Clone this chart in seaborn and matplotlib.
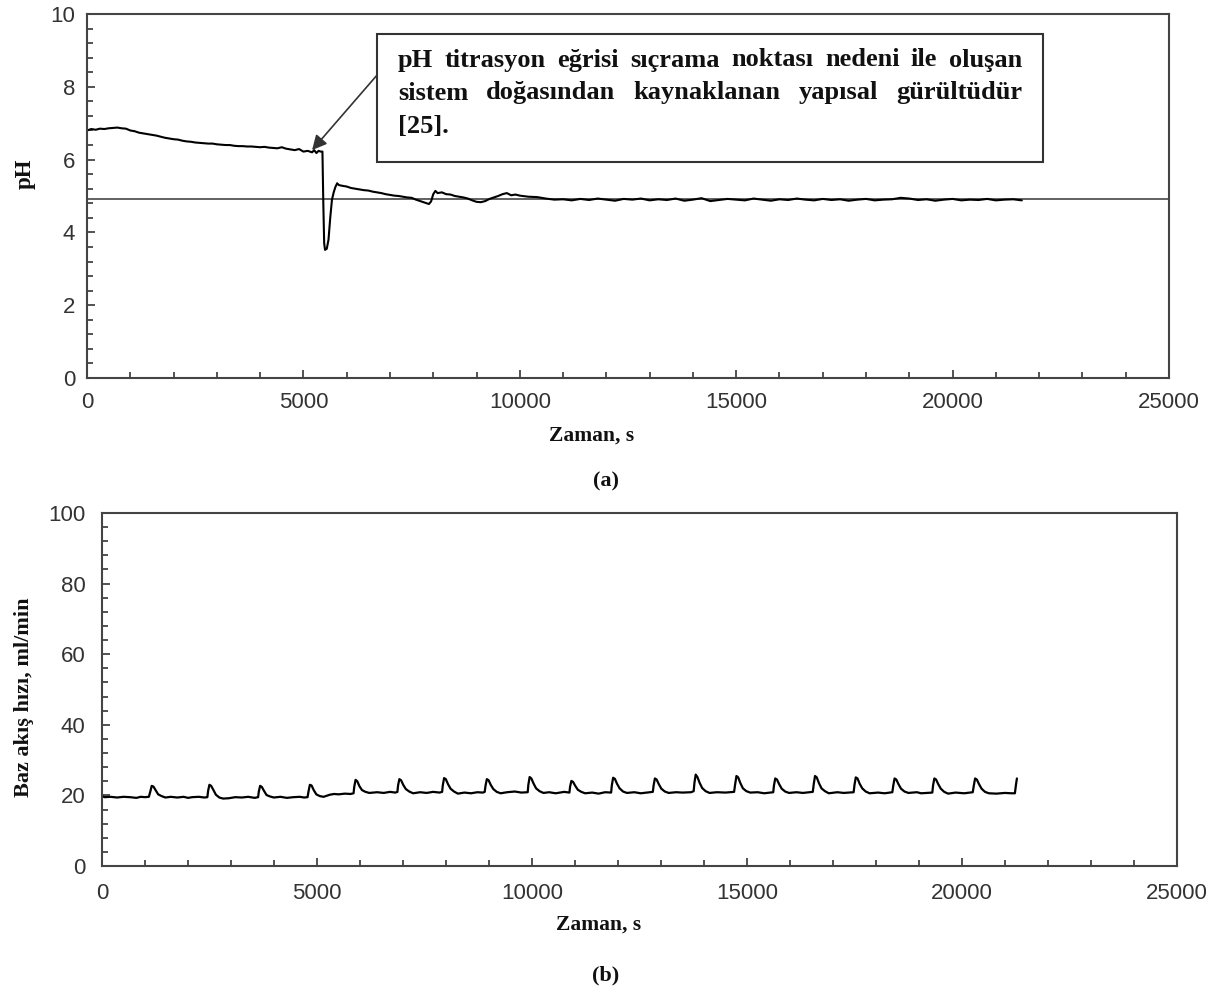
import pandas as pd
import seaborn as sns
import matplotlib.pyplot as plt
from matplotlib.ticker import MultipleLocator
from matplotlib.patches import Rectangle

#pH vs time
ph_t = [0, 100, 200, 300, 400, 500, 600, 700, 800, 900, 1000, 1100, 1200, 1300, 1400,
        1500, 1600, 1700, 1800, 1900, 2000, 2100, 2200, 2300, 2400, 2500, 2600, 2700,
        2800, 2900, 3000, 3100, 3200, 3300, 3400, 3500, 3600, 3700, 3800, 3900, 4000,
        4100, 4200, 4300, 4400, 4500, 4600, 4700, 4800, 4900, 5000, 5100, 5200, 5250,
        5300, 5350, 5400, 5440, 5460, 5480, 5500, 5540, 5580, 5620, 5660, 5700, 5740,
        5780, 5820, 5900, 6000, 6100, 6200, 6300, 6400, 6500, 6600, 6700, 6800, 6900,
        7000, 7100, 7200, 7300, 7400, 7500, 7600, 7700, 7800, 7900, 7950, 8000, 8050,
        8100, 8200, 8300, 8400, 8500, 8600, 8700, 8800, 8900, 9000, 9100, 9200, 9300,
        9400, 9500, 9600, 9700, 9800, 9900, 10000, 10200, 10400, 10600, 10800, 11000,
        11200, 11400, 11600, 11800, 12000, 12200, 12400, 12600, 12800, 13000, 13200,
        13400, 13600, 13800, 14000, 14200, 14400, 14600, 14800, 15000, 15200, 15400,
        15600, 15800, 16000, 16200, 16400, 16600, 16800, 17000, 17200, 17400, 17600,
        17800, 18000, 18200, 18400, 18600, 18800, 19000, 19200, 19400, 19600, 19800,
        20000, 20200, 20400, 20600, 20800, 21000, 21200, 21400, 21600]
ph_v = [6.80, 6.84, 6.82, 6.85, 6.84, 6.86, 6.87, 6.88, 6.86, 6.85, 6.80, 6.78, 6.74,
        6.72, 6.70, 6.68, 6.66, 6.63, 6.60, 6.58, 6.56, 6.55, 6.52, 6.50, 6.49, 6.47,
        6.46, 6.45, 6.44, 6.44, 6.42, 6.41, 6.40, 6.40, 6.38, 6.37, 6.37, 6.36, 6.36,
        6.35, 6.34, 6.35, 6.33, 6.32, 6.31, 6.34, 6.30, 6.28, 6.26, 6.29, 6.22, 6.24,
        6.20, 6.26, 6.18, 6.24, 6.22, 6.22, 4.80, 3.70, 3.52, 3.55, 3.80, 4.40, 4.90,
        5.10, 5.25, 5.35, 5.30, 5.28, 5.26, 5.22, 5.20, 5.18, 5.16, 5.15, 5.12, 5.10,
        5.08, 5.05, 5.03, 5.01, 5.00, 4.98, 4.96, 4.95, 4.90, 4.86, 4.82, 4.78, 4.85,
        5.05, 5.14, 5.08, 5.10, 5.05, 5.04, 5.00, 4.98, 4.96, 4.93, 4.88, 4.84, 4.83,
        4.86, 4.92, 4.96, 5.00, 5.05, 5.08, 5.02, 5.04, 5.01, 4.98, 4.97, 4.93, 4.90,
        4.91, 4.88, 4.92, 4.89, 4.93, 4.90, 4.87, 4.92, 4.90, 4.93, 4.88, 4.91, 4.89,
        4.93, 4.87, 4.90, 4.94, 4.86, 4.89, 4.92, 4.90, 4.88, 4.93, 4.90, 4.87, 4.91,
        4.89, 4.93, 4.90, 4.88, 4.92, 4.89, 4.91, 4.87, 4.90, 4.92, 4.88, 4.90, 4.91,
        4.95, 4.93, 4.89, 4.91, 4.87, 4.90, 4.92, 4.88, 4.90, 4.89, 4.92, 4.88, 4.90,
        4.91, 4.88]
ph_setpoint = 4.93

#Base flow rate vs time
flow_t = [0, 60, 200, 350, 500, 650, 800, 900, 1000, 1090,
          1126, 1156, 1196, 1246, 1306, 1386, 1476,
          1600, 1750, 1900, 2000, 2100, 2250, 2380, 2450,
          2468, 2498, 2538, 2588, 2648, 2728, 2818,
          2950, 3100, 3250, 3400, 3550, 3630,
          3647, 3677, 3717, 3767, 3827, 3907, 3997,
          4150, 4300, 4450, 4600, 4700, 4780,
          4804, 4834, 4874, 4924, 4984, 5064, 5154,
          5300, 5400, 5500, 5650, 5780, 5850,
          5867, 5897, 5937, 5987, 6047, 6127, 6217,
          6400, 6550, 6700, 6820, 6870,
          6885, 6915, 6955, 7005, 7065, 7145, 7235,
          7400, 7550, 7700, 7850, 7910,
          7926, 7956, 7996, 8046, 8106, 8186, 8276,
          8430, 8580, 8730, 8860, 8900,
          8920, 8950, 8990, 9040, 9100, 9180, 9270,
          9420, 9600, 9750, 9900,
          9915, 9945, 9985, 10035, 10095, 10175, 10265,
          10400, 10550, 10750, 10870,
          10886, 10916, 10956, 11006, 11066, 11146, 11236,
          11400, 11550, 11700, 11840,
          11857, 11887, 11927, 11977, 12037, 12117, 12207,
          12380, 12530, 12680, 12810,
          12828, 12858, 12898, 12948, 13008, 13088, 13178,
          13350, 13500, 13700, 13760,
          13777, 13807, 13847, 13897, 13957, 14037, 14127,
          14300, 14500, 14700,
          14725, 14755, 14795, 14845, 14905, 14985, 15075,
          15250, 15400, 15610,
          15627, 15657, 15697, 15747, 15807, 15887, 15977,
          16150, 16300, 16530,
          16552, 16582, 16622, 16672, 16732, 16812, 16902,
          17100, 17250, 17480,
          17500, 17530, 17570, 17620, 17680, 17760, 17850,
          18050, 18200, 18380,
          18402, 18432, 18472, 18522, 18582, 18662, 18752,
          18950, 19050, 19310,
          19327, 19357, 19397, 19447, 19507, 19587, 19677,
          19850, 20050, 20250,
          20275, 20305, 20345, 20395, 20455, 20535, 20625,
          20800, 21000, 21150, 21230, 21255, 21277]
flow_v = [19.8, 19.5, 19.6, 19.4, 19.6, 19.5, 19.3, 19.6, 19.5, 19.6,
          21.2, 22.7, 22.5, 21.5, 20.3, 19.8, 19.4,
          19.6, 19.4, 19.6, 19.3, 19.5, 19.6, 19.4, 19.5,
          21.3, 23.0, 22.7, 21.6, 20.2, 19.4, 19.1,
          19.2, 19.5, 19.4, 19.6, 19.3, 19.5,
          21.1, 22.7, 22.4, 21.3, 20.1, 19.7, 19.4,
          19.6, 19.3, 19.5, 19.6, 19.4, 19.5,
          21.2, 23.0, 22.8, 21.5, 20.3, 19.8, 19.6,
          20.2, 20.4, 20.3, 20.5, 20.4, 20.6,
          22.5, 24.4, 24.0, 22.6, 21.5, 21.0, 20.7,
          20.9, 20.7, 21.0, 20.8, 21.0,
          22.8, 24.6, 24.3, 23.0, 21.8, 21.1, 20.6,
          20.9, 20.7, 21.0, 20.8, 21.0,
          22.9, 24.9, 24.6, 23.2, 21.9, 21.1, 20.5,
          20.8, 20.6, 20.9, 20.8, 21.0,
          22.8, 24.6, 24.3, 23.0, 21.8, 21.0, 20.6,
          20.9, 21.1, 20.8, 20.9,
          23.0, 25.2, 24.8, 23.4, 22.0, 21.2, 20.7,
          20.9, 20.6, 21.0, 20.8,
          22.5, 24.1, 23.8, 22.7, 21.6, 21.0, 20.6,
          20.8, 20.5, 20.9, 20.8,
          22.9, 25.0, 24.7, 23.3, 22.0, 21.1, 20.7,
          20.9, 20.6, 20.8, 21.0,
          22.8, 24.8, 24.5, 23.2, 21.9, 21.1, 20.7,
          20.9, 20.8, 20.9, 21.2,
          23.5, 25.9, 25.2, 23.6, 22.1, 21.2, 20.7,
          20.9, 20.8, 21.0,
          23.2, 25.5, 25.1, 23.5, 22.0, 21.2, 20.8,
          20.9, 20.6, 20.9,
          22.8, 24.8, 24.5, 23.2, 21.9, 21.1, 20.7,
          20.9, 20.7, 21.0,
          23.2, 25.5, 25.1, 23.5, 22.0, 21.2, 20.6,
          20.9, 20.7, 20.9,
          23.0, 25.1, 24.8, 23.3, 22.0, 21.1, 20.6,
          20.8, 20.6, 20.9,
          22.8, 24.8, 24.5, 23.2, 21.9, 21.1, 20.7,
          20.9, 20.6, 20.8,
          22.8, 24.8, 24.5, 23.2, 21.9, 21.0, 20.5,
          20.8, 20.6, 20.9,
          22.8, 24.8, 24.5, 23.2, 21.9, 21.0, 20.6,
          20.5, 20.7, 20.6, 20.6, 23.0, 24.8]

note_lines = ["pH titrasyon eğrisi sıçrama noktası nedeni ile oluşan",
              "sistem doğasından kaynaklanan yapısal gürültüdür",
              "[25]."]

ph = pd.DataFrame({"t": ph_t, "pH": ph_v})
flow = pd.DataFrame({"t": flow_t, "flow": flow_v})

sns.set_style("ticks")
plt.rcParams['font.family'] = ['Liberation Sans', 'DejaVu Sans']

W, H = 1210, 992
fig = plt.figure(figsize=(W / 100, H / 100), dpi=100)

def px_axes(l, t, r, b):
    return fig.add_axes([l / W, 1 - b / H, (r - l) / W, (b - t) / H])

ax1 = px_axes(87, 14, 1169, 378)
ax2 = px_axes(102, 513, 1177, 866)

serif = dict(family=['Liberation Serif', 'DejaVu Serif'], weight='bold', color='#111')

#Panel (a): pH
sns.lineplot(data=ph, x="t", y="pH", ax=ax1, color='black', lw=1.5,
             estimator=None, sort=False)
ax1.axhline(ph_setpoint, color='#555', lw=1.3, zorder=1)
ax1.set_xlim(0, 25000)
ax1.set_ylim(0, 10)
ax1.xaxis.set_major_locator(MultipleLocator(5000))
ax1.xaxis.set_minor_locator(MultipleLocator(1000))
ax1.yaxis.set_major_locator(MultipleLocator(2))
ax1.yaxis.set_minor_locator(MultipleLocator(0.4))
ax1.set_xlabel("Zaman, s", fontsize=15.5, va='center', ha='center', **serif)
ax1.set_ylabel("pH", fontsize=16.5, va='center', ha='center', **serif)
ax1.xaxis.set_label_coords(0.466, -0.157)
ax1.yaxis.set_label_coords(-0.057, 0.56)

#Panel (b): base flow rate
sns.lineplot(data=flow, x="t", y="flow", ax=ax2, color='black', lw=1.6,
             estimator=None, sort=False)
ax2.set_xlim(0, 25000)
ax2.set_ylim(0, 100)
ax2.xaxis.set_major_locator(MultipleLocator(5000))
ax2.xaxis.set_minor_locator(MultipleLocator(1000))
ax2.yaxis.set_major_locator(MultipleLocator(20))
ax2.yaxis.set_minor_locator(MultipleLocator(4))
ax2.set_xlabel("Zaman, s", fontsize=15.5, va='center', ha='center', **serif)
ax2.set_ylabel("Baz akış hızı, ml/min", fontsize=16, va='center', ha='center', **serif)
ax2.xaxis.set_label_coords(0.462, -0.167)
ax2.yaxis.set_label_coords(-0.073, 0.479)

for ax, xpad, ypad in [(ax1, 10, 8.5), (ax2, 12, 12)]:
    for s in ax.spines.values():
        s.set_visible(True)
        s.set_color('#444')
        s.set_linewidth(1.5)
    ax.tick_params(which='both', direction='in', top=False, right=False,
                   color='#444', width=1.3)
    ax.tick_params(which='major', length=6, labelsize=16, labelcolor='#333')
    ax.tick_params(which='minor', length=4)
    ax.tick_params(axis='x', pad=xpad)
    ax.tick_params(axis='y', pad=ypad)

#Annotation box with arrow
ax1.add_patch(Rectangle((0.268, 0.593), 0.6155, 0.352, transform=ax1.transAxes,
                        fill=False, edgecolor='#333', lw=1.5, zorder=3))
ax1.annotate("", xy=(5200, 6.26), xytext=(0.268, 0.832), textcoords='axes fraction',
             arrowprops=dict(arrowstyle='-|>', color='#333', lw=1.2,
                             mutation_scale=22, shrinkA=0, shrinkB=0))

#Justify the note text between the box margins
fig.canvas.draw()
rend = fig.canvas.get_renderer()
x_left, x_right = 398, 1022
for i, (line, y) in enumerate(zip(note_lines, [60, 93, 127])):
    words = line.split()
    objs = [fig.text(0, 1 - y / H, w, va='center', ha='left', fontsize=19, **serif)
            for w in words]
    widths = [o.get_window_extent(rend).width for o in objs]
    gap = (x_right - x_left - sum(widths)) / (len(words) - 1) if i < 2 else 6
    x = x_left
    for o, wd in zip(objs, widths):
        o.set_x(x / W)
        x += wd + gap

fig.text(606 / W, 1 - 481 / H, "(a)", ha='center', va='center', fontsize=16, **serif)
fig.text(606 / W, 1 - 975 / H, "(b)", ha='center', va='center', fontsize=16, **serif)

fig.savefig("out.png", dpi=100)
